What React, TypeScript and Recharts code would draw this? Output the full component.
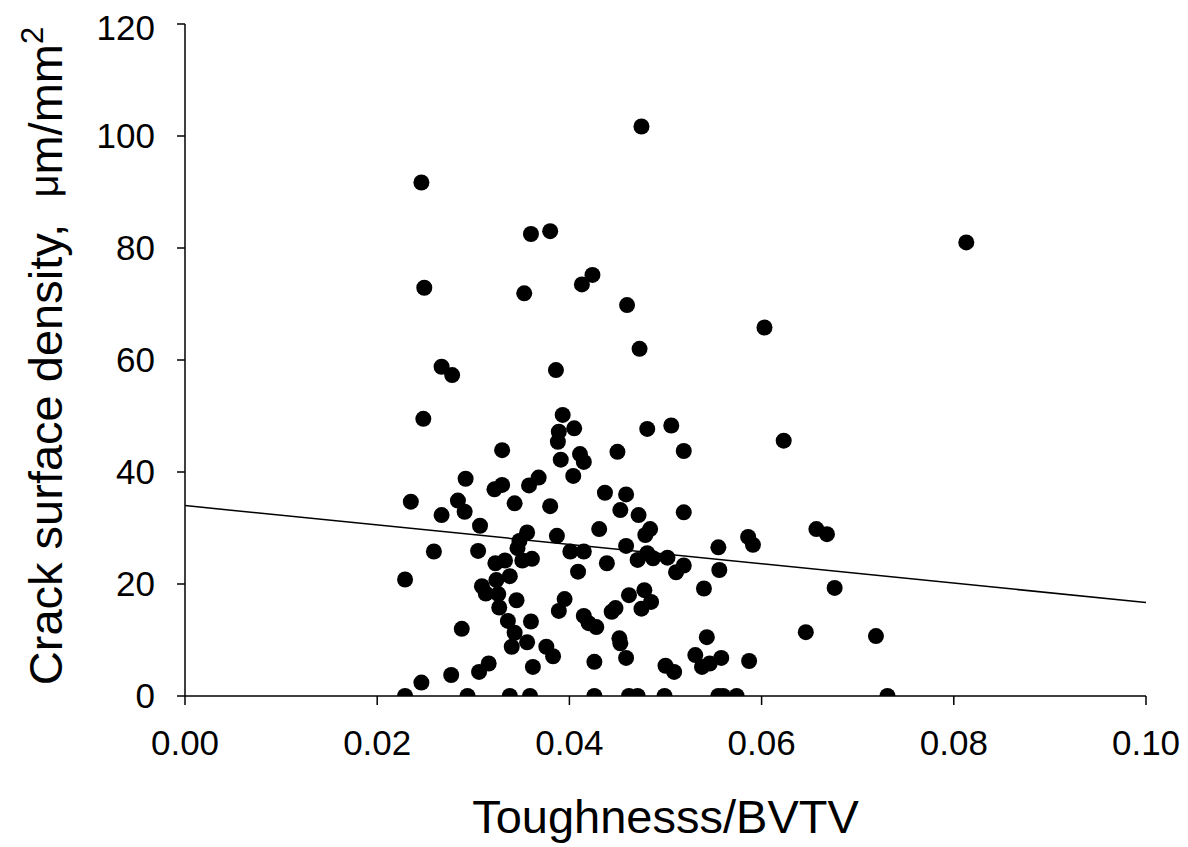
import React from 'react';
import { ScatterChart, Scatter, XAxis, YAxis } from 'recharts';

// toughness / BVTV (x) against crack surface density (y)
const toughness = [
  0.0475, 0.0246, 0.036, 0.038, 0.0249, 0.0353, 0.0413, 0.0424, 0.046, 0.0603,
  0.0473, 0.0267, 0.0278, 0.0386, 0.0813, 0.0248, 0.0393, 0.0405, 0.0389, 0.0388,
  0.033, 0.0391, 0.0411, 0.0415, 0.0404, 0.0292, 0.033, 0.0322, 0.0368, 0.0358,
  0.0235, 0.0284, 0.0291, 0.0267, 0.0343, 0.038, 0.0307, 0.0356, 0.0387, 0.0348,
  0.0346, 0.0351, 0.0361, 0.0259, 0.0305, 0.0401, 0.0409, 0.0323, 0.0333, 0.0338,
  0.0324, 0.0229, 0.0309, 0.0313, 0.0326, 0.0345, 0.0327, 0.0395, 0.0389, 0.0336,
  0.036, 0.0343, 0.0288, 0.034, 0.0356, 0.0376, 0.0383, 0.0362, 0.0316, 0.0306,
  0.0277, 0.0246, 0.0229, 0.0294, 0.0338, 0.0359, 0.0481, 0.0506, 0.045, 0.0519,
  0.0437, 0.0459, 0.0453, 0.0472, 0.0519, 0.0431, 0.0484, 0.0479, 0.0586, 0.0591,
  0.0415, 0.0459, 0.0439, 0.0471, 0.0481, 0.0487, 0.0502, 0.0519, 0.0511, 0.0555,
  0.0556, 0.054, 0.0462, 0.0478, 0.0485, 0.0475, 0.0448, 0.0444, 0.0415, 0.042,
  0.0428, 0.0452, 0.0453, 0.0543, 0.0531, 0.0538, 0.0546, 0.0558, 0.0587, 0.0459,
  0.0426, 0.05, 0.0509, 0.0426, 0.0462, 0.0471, 0.0499, 0.0555, 0.056, 0.0574,
  0.0623, 0.0657, 0.0668, 0.0676, 0.0646, 0.0719, 0.0731,
];
const crackDensity = [
  101.7, 91.7, 82.5, 83.0, 72.9, 71.9, 73.5, 75.2, 69.8, 65.8,
  62.0, 58.8, 57.3, 58.2, 81.0, 49.5, 50.2, 47.8, 47.2, 45.4,
  43.9, 42.2, 43.2, 41.8, 39.3, 38.8, 37.7, 36.9, 39.0, 37.6,
  34.7, 34.9, 32.9, 32.3, 34.4, 33.9, 30.4, 29.2, 28.6, 27.7,
  26.4, 24.2, 24.5, 25.8, 25.9, 25.8, 22.2, 23.7, 24.2, 21.4,
  20.7, 20.8, 19.6, 18.3, 18.2, 17.1, 15.8, 17.3, 15.2, 13.4,
  13.3, 11.3, 12.0, 8.8, 9.6, 8.8, 7.1, 5.2, 5.8, 4.3,
  3.75, 2.4, 0, 0, 0, 0, 47.7, 48.3, 43.6, 43.75,
  36.3, 36.0, 33.2, 32.3, 32.8, 29.8, 29.8, 28.75, 28.4, 27.0,
  25.8, 26.8, 23.7, 24.3, 25.5, 24.6, 24.7, 23.3, 22.1, 26.55,
  22.5, 19.2, 18.0, 18.9, 16.8, 15.6, 15.7, 15.05, 14.3, 13.0,
  12.3, 10.3, 9.4, 10.5, 7.3, 5.2, 5.8, 6.8, 6.25, 6.8,
  6.1, 5.4, 4.3, 0, 0, 0, 0, 0, 0, 0,
  45.6, 29.8, 28.9, 19.3, 11.4, 10.7, 0,
];

// linear fit drawn across the whole x range
const fitX = [0, 0.1];
const fitY = [34.0, 16.7];

const xTicks = [0, 0.02, 0.04, 0.06, 0.08, 0.1];
const yTicks = [0, 20, 40, 60, 80, 100, 120];

const points = toughness.map((x, i) => ({ x, y: crackDensity[i] }));
const fitLine = fitX.map((x, i) => ({ x, y: fitY[i] }));

const FONT = '"Liberation Sans", Arial, Helvetica, sans-serif';
const W = 1180;
const H = 839;
const margin = { top: 16, right: 42, left: 0, bottom: 0 };
const yAxisWidth = 177;
const xAxisHeight = 151;
const plotLeft = margin.left + yAxisWidth;
const plotRight = W - margin.right;
const plotTop = margin.top;
const plotBottom = H - margin.bottom - xAxisHeight;

const Dot = (props: any) => {
  const { cx, cy } = props;
  if (cx == null || cy == null) return <g />;
  return <circle cx={cx} cy={cy} r={8} fill="#000" />;
};

export default function App() {
  return (
    <div style={{ fontFamily: FONT }}>
      <ScatterChart width={W} height={H} margin={margin}>
        <XAxis
          type="number"
          dataKey="x"
          domain={[0, 0.1]}
          ticks={xTicks}
          allowDataOverflow
          height={xAxisHeight}
          tickFormatter={(v: number) => v.toFixed(2)}
          tick={{ fill: '#000', fontSize: 35, fontFamily: FONT }}
          tickSize={9}
          tickMargin={25}
          axisLine={{ stroke: '#000', strokeWidth: 1.5 }}
          tickLine={{ stroke: '#000', strokeWidth: 1.5 }}
          label={{
            content: () => (
              <text
                x={(plotLeft + plotRight) / 2}
                y={825}
                textAnchor="middle"
                fontSize={47}
                fontFamily={FONT}
                fill="#000"
              >
                Toughnesss/BVTV
              </text>
            ),
          }}
        />
        <YAxis
          type="number"
          dataKey="y"
          domain={[0, 120]}
          ticks={yTicks}
          allowDataOverflow
          width={yAxisWidth}
          tick={{ fill: '#000', fontSize: 35, fontFamily: FONT }}
          tickSize={8}
          tickMargin={22}
          axisLine={{ stroke: '#000', strokeWidth: 1.5 }}
          tickLine={{ stroke: '#000', strokeWidth: 1.5 }}
          label={{
            content: () => {
              const cx = 54;
              const cy = (plotTop + plotBottom) / 2 - 4;
              return (
                <text
                  x={cx}
                  y={cy}
                  transform={`rotate(-90 ${cx} ${cy})`}
                  textAnchor="middle"
                  fontSize={47}
                  fontFamily={FONT}
                  fill="#000"
                >
                  Crack surface density,{'\u00a0\u00a0'}
                  <tspan fontSize={40} dy={-4}>μ</tspan>
                  <tspan dy={4}>m/mm</tspan>
                  <tspan fontSize={31} dy={-19}>2</tspan>
                </text>
              );
            },
          }}
        />
        <Scatter
          data={fitLine}
          line={{ stroke: '#000', strokeWidth: 1.5 }}
          lineType="joint"
          shape={() => <g />}
          isAnimationActive={false}
        />
        <Scatter data={points} shape={Dot} isAnimationActive={false} />
      </ScatterChart>
    </div>
  );
}
